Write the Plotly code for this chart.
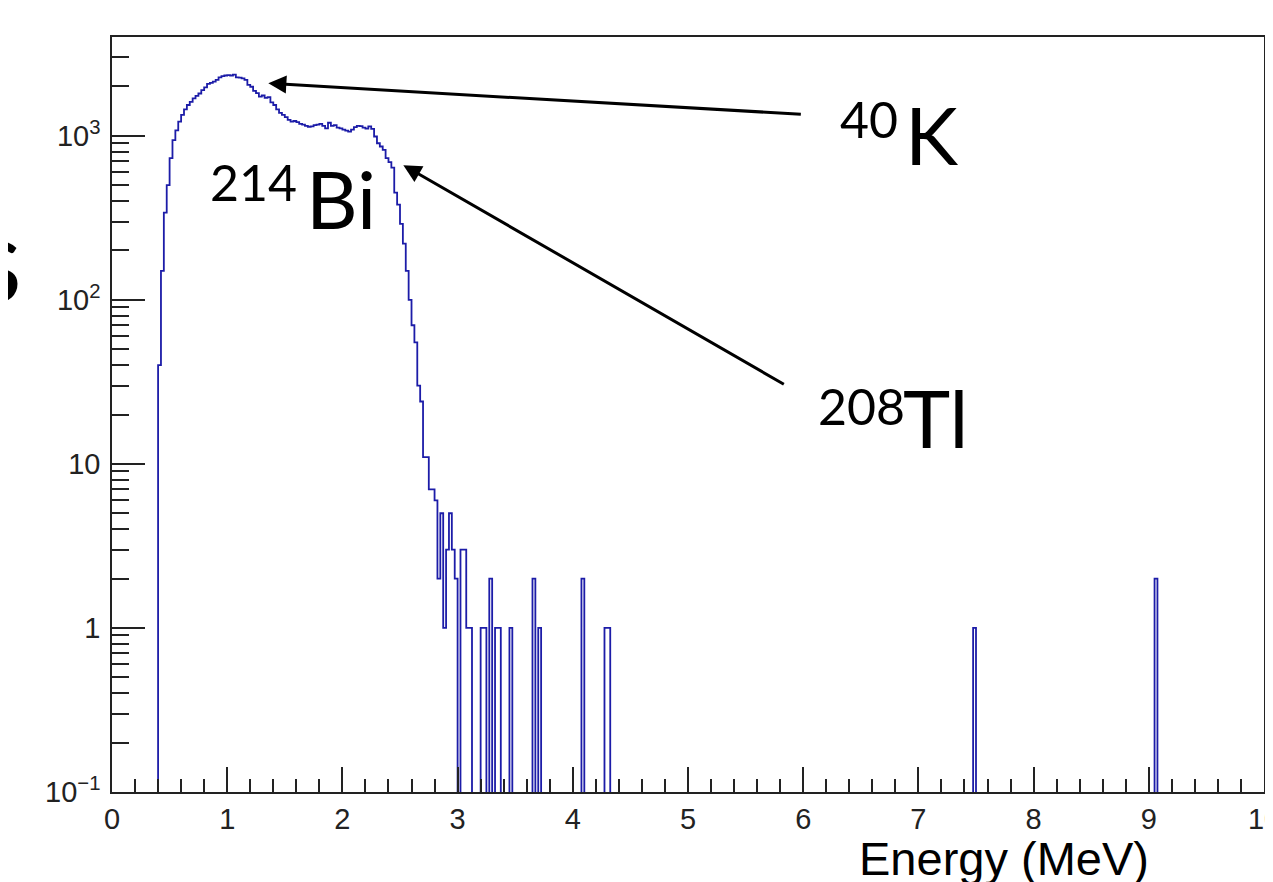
import numpy as np
import plotly.graph_objects as go

# ---------------- data ----------------
BIN_WIDTH = 0.025          # MeV
N_BINS = 400               # 0 .. 10 MeV

# contiguous part of the spectrum, first bin starts at 0.400 MeV
main_start = 0.400
main_counts = [
    40, 150, 340, 500, 730, 940, 1080, 1220, 1340, 1450,
    1540, 1610, 1690, 1750, 1810, 1900, 1970, 2070, 2100, 2140,
    2190, 2270, 2310, 2330, 2340, 2330, 2360, 2270, 2260, 2240,
    2190, 2040, 1990, 1880, 1820, 1730, 1760, 1700, 1720, 1600,
    1540, 1450, 1380, 1340, 1300, 1250, 1220, 1230, 1210, 1180,
    1170, 1150, 1135, 1140, 1160, 1170, 1180, 1150, 1110, 1200,
    1150, 1160, 1120, 1110, 1090, 1075, 1060, 1090, 1130, 1150,
    1145, 1120, 1105, 1140, 1100, 990, 900, 860, 820, 730,
    690, 640, 450, 380, 290, 220, 150, 100, 70, 55,
    30, 24, 11, 11, 7, 7, 6, 2, 5, 1,
    3, 5, 3, 2, 0, 3, 3, 1, 1,
]

# isolated counts in the high-energy tail (bin lower edge, counts)
tail_energies = [3.200, 3.225, 3.275, 3.325, 3.350, 3.450, 3.650, 3.700,
                 4.075, 4.275, 4.300, 7.475, 9.050]
tail_counts = [1, 1, 2, 1, 1, 1, 2, 1, 2, 1, 1, 1, 2]

y_tick_vals = [0.1, 1, 10, 100, 1000]
y_tick_text = ["10<sup>\u22121</sup>", "1", "10", "10<sup>2</sup>", "10<sup>3</sup>"]
x_tick_vals = list(range(0, 11))
x_tick_text = [str(v) for v in x_tick_vals]

# isotope labels: (mass number, element)
isotopes = [("40", "K"), ("214", "Bi"), ("208", "Tl")]

# ---------------- build histogram ----------------
counts = np.zeros(N_BINS)
k0 = int(round(main_start / BIN_WIDTH))
counts[k0:k0 + len(main_counts)] = main_counts
for e, c in zip(tail_energies, tail_counts):
    counts[int(round(e / BIN_WIDTH))] = c
edges = np.arange(N_BINS + 1) * BIN_WIDTH

draw = np.where(counts > 0, counts, 1e-3)   # empty bins drop below the frame
xs = np.append(edges[:-1], edges[-1])
ys = np.append(draw, 1e-3)

LINE = "#1c1ca8"
AX = "#222222"

fig = go.Figure()
fig.add_trace(go.Scatter(
    x=xs, y=ys, mode="lines",
    line=dict(shape="hv", color=LINE, width=1.8),
    hoverinfo="skip", showlegend=False,
))

# page body has an 8px margin; the figure is sized so the page is 1273x882
OFF = 8
W, H = 1273 - OFF, 882 - OFF
PL, PR, PT, PB = 112, 1264, 37, 792      # plot frame in page pixels
L, R, T, B = PL - OFF, (1273 - PR), PT - OFF, (882 - PB)


def px(xp):
    return (xp - PL) / (PR - PL)


def py(yp):
    return (PB - yp) / (PB - PT)


minor_y = [m * 10.0 ** d for d in range(-1, 4) for m in range(2, 10) if m * 10.0 ** d < 4000]

TICKFONT = dict(size=29, family="Liberation Sans, Arial, sans-serif", color=AX)

fig.update_layout(
    width=W, height=H,
    margin=dict(l=L, r=R, t=T, b=B, pad=0, autoexpand=False),
    paper_bgcolor="white", plot_bgcolor="white",
    font=dict(family="Liberation Sans, Arial, sans-serif", color=AX),
    xaxis=dict(
        range=[0, 10], showgrid=False, zeroline=False, automargin=False,
        showline=True, linecolor=AX, linewidth=1.5, mirror=True,
        tickmode="array", tickvals=x_tick_vals, ticktext=x_tick_text,
        ticks="inside", ticklen=25, tickwidth=1.5, tickcolor=AX,
        ticklabeloverflow="allow",
        minor=dict(dtick=0.2, tick0=0, ticks="inside", ticklen=13,
                   tickwidth=1.5, tickcolor=AX, showgrid=False),
        tickfont=TICKFONT,
    ),
    yaxis=dict(
        type="log", range=[-1, 3.602], showgrid=False, zeroline=False, automargin=False,
        showline=True, linecolor=AX, linewidth=1.5, mirror=True,
        tickmode="array", tickvals=y_tick_vals, ticktext=y_tick_text,
        ticks="inside", ticklen=33, tickwidth=1.5, tickcolor=AX,
        ticklabeloverflow="allow", ticklabelstandoff=4,
        minor=dict(tickmode="array", tickvals=minor_y, ticks="inside", ticklen=17,
                   tickwidth=1.5, tickcolor=AX, showgrid=False),
        tickfont=TICKFONT,
    ),
)

SUP = dict(family="Lato, Open Sans, sans-serif", size=50, color="black")
BIG = dict(family="Lato, Open Sans, sans-serif", size=80, color="black")

# label placement in page pixels: (sup left, sup center y, elem left, elem center y)
label_pos = [(838, 119, 903, 134), (208, 182, 304, 198), (816, 406, 901, 417)]

ann = []
for (mass, elem), (sx, sy, ex, ey) in zip(isotopes, label_pos):
    ann.append(dict(text=mass, x=px(sx), y=py(sy), xref="paper", yref="paper",
                    xanchor="left", yanchor="middle", showarrow=False, font=SUP))
    ann.append(dict(text=elem, x=px(ex), y=py(ey), xref="paper", yref="paper",
                    xanchor="left", yanchor="middle", showarrow=False, font=BIG))

ann += [
    dict(text="s", x=px(24), y=py(256), xref="paper", yref="paper",
         xanchor="right", yanchor="middle", showarrow=False,
         font=dict(family="Lato, Open Sans, sans-serif", size=118, color="black")),
    dict(text="Energy (MeV)", x=px(1151), y=py(830), xref="paper", yref="paper",
         xanchor="right", yanchor="top", showarrow=False,
         font=dict(family="Liberation Sans, Arial, sans-serif", size=47, color="black")),
    # arrows: head in data coords, tail offset in pixels
    dict(text="", x=1.357, y=3.3195, xref="x", yref="y", showarrow=True,
         ax=534, ay=31, arrowhead=2, arrowsize=1.2, arrowwidth=3, arrowcolor="black",
         standoff=0),
    dict(text="", x=2.529, y=2.821, xref="x", yref="y", showarrow=True,
         ax=382, ay=220, arrowhead=2, arrowsize=1.2, arrowwidth=3, arrowcolor="black",
         standoff=0),
]
fig.update_layout(annotations=ann)

fig.write_html("out.html")
